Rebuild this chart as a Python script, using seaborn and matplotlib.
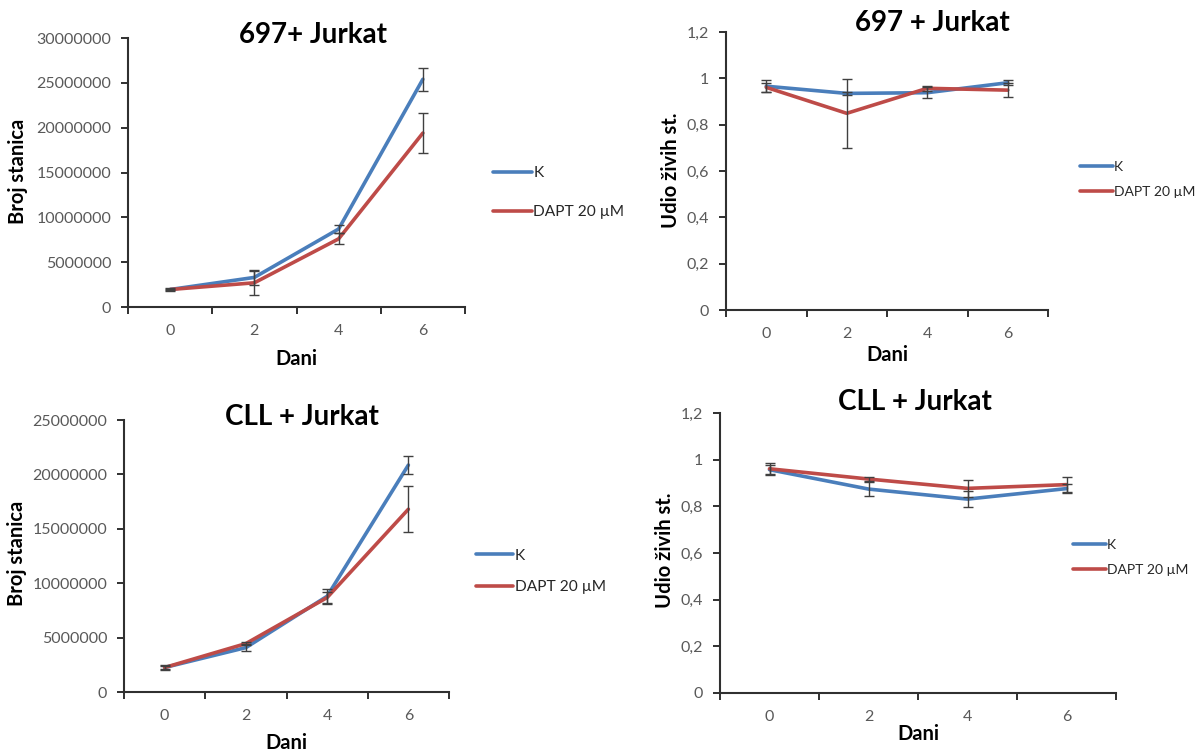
import numpy as np
import pandas as pd
import matplotlib
matplotlib.use("Agg")
import matplotlib.pyplot as plt
import seaborn as sns
from matplotlib.ticker import FuncFormatter, MultipleLocator

# ---------------- data ----------------
days = ["0", "2", "4", "6"]
groups = ["K", "DAPT 20 µM"]

# 697 + Jurkat : cell counts
cnt697_k = [1.95e6, 3.3e6, 8.7e6, 25.4e6]
cnt697_k_err = [0.15e6, 0.8e6, 0.45e6, 1.3e6]
cnt697_d = [1.95e6, 2.7e6, 7.6e6, 19.4e6]
cnt697_d_err = [0.1e6, 1.35e6, 0.6e6, 2.2e6]

# 697 + Jurkat : viable fraction
via697_k = [0.966, 0.935, 0.938, 0.981]
via697_k_err = [0.025, 0.006, 0.025, 0.01]
via697_d = [0.961, 0.849, 0.957, 0.949]
via697_d_err = [0.02, 0.15, 0.012, 0.03]

# CLL + Jurkat : cell counts
cntcll_k = [2.25e6, 4.08e6, 8.8e6, 20.86e6]
cntcll_k_err = [0.2e6, 0.3e6, 0.7e6, 0.8e6]
cntcll_d = [2.25e6, 4.45e6, 8.68e6, 16.8e6]
cntcll_d_err = [0.15e6, 0.15e6, 0.5e6, 2.1e6]

# CLL + Jurkat : viable fraction
viacll_k = [0.957, 0.874, 0.831, 0.876]
viacll_k_err = [0.02, 0.03, 0.033, 0.018]
viacll_d = [0.961, 0.917, 0.877, 0.893]
viacll_d_err = [0.025, 0.01, 0.038, 0.031]

titles = ["697+ Jurkat", "697 + Jurkat", "CLL + Jurkat", "CLL + Jurkat"]
ylabels = ["Broj stanica", "Udio živih st.", "Broj stanica", "Udio živih st."]
xlabel = "Dani"

# ---------------- style ----------------
sns.set_style("ticks")
plt.rcParams["font.family"] = ["Lato", "DejaVu Sans"]

W, H = 1203, 753
fig = plt.figure(figsize=(W / 100, H / 100), dpi=100)
palette = {groups[0]: "#4A7EBB", groups[1]: "#BE4B48"}
AX_COL = "#303030"
TICK_COL = "#595959"


def fx(px):
    return px / W


def fy(py):
    return 1 - py / H


panels = [
    dict(box=(128, 38, 465, 307), k=cnt697_k, ke=cnt697_k_err, d=cnt697_d, de=cnt697_d_err,
         ymax=30e6, ystep=5e6, count=True, title_c=(313, 35), ylab_x=18, xlab_y=359,
         leg=(493, 192.5), hl=2.5, ls=1.6, lfs=11.2),
    dict(box=(726, 32, 1048, 310), k=via697_k, ke=via697_k_err, d=via697_d, de=via697_d_err,
         ymax=1.2, ystep=0.2, count=False, title_c=(932, 23), ylab_x=671, xlab_y=355,
         leg=(1080, 179.5), hl=2.35, ls=0.95, lfs=10.0),
    dict(box=(124, 420, 449, 692), k=cntcll_k, ke=cntcll_k_err, d=cntcll_d, de=cntcll_d_err,
         ymax=25e6, ystep=5e6, count=True, title_c=(302, 417), ylab_x=17, xlab_y=743,
         leg=(476, 571.5), hl=2.4, ls=1.15, lfs=11.2),
    dict(box=(720, 413, 1116, 693), k=viacll_k, ke=viacll_k_err, d=viacll_d, de=viacll_d_err,
         ymax=1.2, ystep=0.2, count=False, title_c=(915, 402), ylab_x=665, xlab_y=734,
         leg=(1073, 557.5), hl=2.35, ls=0.95, lfs=10.0),
]


def count_fmt(v, pos):
    return f"{v:.0f}"


def frac_fmt(v, pos):
    s = f"{round(v, 1):g}"
    return s.replace(".", ",")


for i, p in enumerate(panels):
    l, t, r, b = p["box"]
    ax = fig.add_axes([fx(l), fy(b), (r - l) / W, (b - t) / H])

    df = pd.DataFrame({
        "Dani": days * 2,
        "val": list(p["k"]) + list(p["d"]),
        "grupa": [groups[0]] * len(days) + [groups[1]] * len(days),
    })
    sns.lineplot(data=df, x="Dani", y="val", hue="grupa", hue_order=groups,
                 palette=palette, errorbar=None, sort=False, linewidth=2.6,
                 ax=ax, zorder=2)
    ax.errorbar(days, p["k"], yerr=p["ke"], fmt="none", ecolor="#404040",
                elinewidth=1.0, capsize=3.6, capthick=1.0, zorder=3)
    ax.errorbar(days, p["d"], yerr=p["de"], fmt="none", ecolor="#404040",
                elinewidth=1.0, capsize=3.6, capthick=1.0, zorder=3)

    # axes limits / ticks
    ax.set_xlim(-0.5, len(days) - 0.5)
    ax.set_ylim(0, p["ymax"])
    ax.yaxis.set_major_locator(MultipleLocator(p["ystep"]))
    ax.yaxis.set_major_formatter(FuncFormatter(count_fmt if p["count"] else frac_fmt))
    ax.set_xticks(range(len(days)), labels=days)
    ax.set_xticks(np.arange(-0.5, len(days), 1.0), minor=True)
    ax.tick_params(axis="x", which="major", length=0, pad=12, labelsize=11.5,
                   labelcolor=TICK_COL)
    ax.tick_params(axis="x", which="minor", length=5, width=1.4, color=AX_COL,
                   direction="out")
    ax.tick_params(axis="y", which="major", length=5, width=1.4, color=AX_COL,
                   direction="out", pad=7, labelsize=11.5, labelcolor=TICK_COL)
    for side in ("top", "right"):
        ax.spines[side].set_visible(False)
    for side in ("left", "bottom"):
        ax.spines[side].set_color(AX_COL)
        ax.spines[side].set_linewidth(1.5)
    ax.grid(False)

    # axis labels, placed in figure coordinates
    ax.set_xlabel(xlabel, fontsize=14.5, fontweight="bold", color="black")
    ax.xaxis.set_label_coords(fx((l + r) / 2), fy(p["xlab_y"]), transform=fig.transFigure)
    ax.xaxis.label.set_va("center")

    ax.set_ylabel(ylabels[i], fontsize=14.5, fontweight="bold", color="black")
    ax.yaxis.set_label_coords(fx(p["ylab_x"]), fy((t + b) / 2 + (-1 if i in (0, 1) else -3)),
                              transform=fig.transFigure)
    ax.yaxis.label.set_rotation_mode("default")
    ax.yaxis.label.set_va("center")
    ax.yaxis.label.set_ha("center")

    cx, cy = p["title_c"]
    ax.set_title(titles[i], fontsize=20, fontweight="bold", color="black",
                 x=(cx - l) / (r - l), y=1 + (t - cy) / (b - t), va="center", pad=0)

    # legend
    handles, labels = ax.get_legend_handles_labels()
    if ax.get_legend() is not None:
        ax.get_legend().remove()
    leg = ax.legend(handles, labels, loc="center left",
                    bbox_to_anchor=(fx(p["leg"][0]), fy(p["leg"][1])),
                    bbox_transform=fig.transFigure, frameon=False, fontsize=p["lfs"],
                    handlelength=p["hl"], handletextpad=0.1, labelspacing=p["ls"],
                    borderpad=0, borderaxespad=0, labelcolor="#262626")
    for ln in leg.get_lines():
        ln.set_linewidth(2.6)

fig.savefig("out.png", dpi=100, facecolor="white")
